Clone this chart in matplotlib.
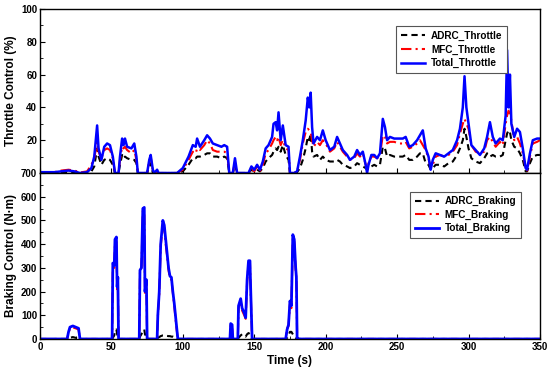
"""
Throttle / braking control split between ADRC and MFC parts.
Writes out.png (550x371).
"""

import matplotlib
matplotlib.use("Agg")
import matplotlib.pyplot as plt
from matplotlib.ticker import MultipleLocator

plt.rcParams["font.family"] = ["Liberation Sans", "DejaVu Sans"]
plt.rcParams["font.weight"] = "bold"

# THROTTLE DATA (%)
thr_time = [0, 10, 15, 20, 24, 28, 33, 36, 38, 40, 41, 43, 45, 47, 49, 51, 52.5, 55,
            56, 57.5, 58.5, 59.5, 61, 64, 66, 67.5, 68.5, 75, 76.5, 77.5, 79, 80, 82, 83,
            96, 100, 104, 107, 109, 110, 112, 115, 117, 119, 121, 124, 127, 129, 131,
            132.5, 135, 136.5, 138, 146, 148, 150, 152, 154, 156, 158, 160, 162.5, 163.5,
            165, 166, 167, 168.5, 170, 172, 174, 175, 178, 180, 182, 184, 186, 187.5,
            188.5, 189.5, 190.5, 191.5, 194, 196, 198, 200, 203, 206, 208, 210, 212, 215,
            217, 220, 222, 224, 226, 228, 229, 230, 232, 234, 236, 238, 240, 241.5, 243,
            245, 248, 251, 254, 256, 258.5, 261, 264, 266, 268, 270, 272, 273.5, 275, 277,
            280, 283, 286, 289, 292, 294, 296, 297.2, 298.5, 300, 302, 305, 308, 311, 313,
            315, 317, 319, 322, 324, 326, 327, 328, 329, 330, 332, 334, 336, 338, 340, 341,
            343, 345, 348, 350]
thr_total = [0.5, 0.5, 1, 1.5, 1, 0, 0.5, 3, 10, 29, 15, 8, 16, 18, 17, 10, 0, 0,
             10, 21, 17, 21, 16, 15, 18, 10, 0, 0, 8, 11, 2, 0, 2, 0,
             0, 3, 10, 17, 16, 21, 16, 20, 23, 21, 18, 17, 16, 17, 16,
             0, 0, 9, 0, 0, 4, 2, 5, 2, 7, 15, 17, 22, 30,
             31, 26, 37, 20, 29, 17, 16, 0, 0, 1, 10, 20, 32, 46,
             40, 49, 28, 18, 22, 20, 26, 20, 14, 16, 22, 18, 14, 11,
             8, 10, 14, 11, 13, 5, 0, 5, 11, 11, 9, 12, 33, 28, 20,
             22, 21, 21, 21, 22, 16, 17, 20, 23, 26, 15, 10, 2, 8, 12,
             11, 10, 12, 14, 20, 27, 40, 59, 40, 30, 17, 14, 11, 15, 22,
             31, 22, 18, 21, 20, 35, 75, 40, 60, 30, 22, 27, 25, 15, 3, 2,
             12, 20, 21, 21]
thr_mfc = [0.5, 0.5, 1.5, 2, 1.5, 0.3, 1, 5, 9, 19, 13, 9, 14, 15, 14, 9, 0, 0,
           8, 16, 15, 16, 14, 12, 14, 8, 0, 0, 7, 10, 1, 0, 1, 0,
           0, 2, 8, 13, 12, 15, 14, 17, 20, 18, 14, 13, 13, 13, 12,
           0, 0, 7, 0, 0, 3, 1, 4, 1, 5, 12, 14, 18, 20,
           22, 20, 22, 17, 20, 15, 14, 0, 0, 1, 8, 18, 25, 27,
           26, 25, 20, 16, 19, 17, 20, 18, 13, 15, 19, 16, 13, 10,
           8, 9, 12, 10, 12, 5, 2, 6, 10, 10, 9, 11, 23, 22, 18,
           19, 19, 18, 18, 19, 15, 16, 18, 20, 17, 14, 9, 3, 5, 10,
           11, 10, 11, 13, 17, 24, 30, 33, 30, 27, 17, 13, 12, 13, 20,
           22, 19, 16, 19, 17, 30, 35, 38, 36, 32, 20, 22, 18, 12, 3, 1,
           10, 18, 19, 20]
thr_adrc = [0.3, 0.3, 0.5, 0.5, 0.5, 0, 0, 1, 4, 15, 10, 5, 8, 9, 8, 5, 0, 0,
            5, 11, 9, 10, 9, 8, 8, 6, 0, 0, 4, 6, 0, 0, 0, 0,
            0, 1, 5, 9, 9, 10, 10, 11, 12, 12, 10, 10, 9, 10, 9,
            0, 0, 5, 0, 0, 2, 1, 2, 1, 3, 7, 9, 11, 13,
            15, 14, 16, 13, 17, 11, 8, 0, 0, 0.5, 3, 8, 15, 22,
            20, 24, 13, 10, 11, 8, 10, 8, 7, 7, 8, 7, 5, 4,
            3, 4, 6, 5, 4, 3, 2, 3, 4, 5, 4, 5, 16, 15, 10,
            11, 10, 10, 10, 11, 8, 8, 10, 12, 12, 6, 5, 2, 3, 5,
            5, 4, 6, 7, 11, 15, 20, 27, 22, 15, 9, 7, 6, 9, 12,
            10, 11, 10, 10, 11, 20, 24, 26, 25, 20, 16, 15, 12, 8, 1, 1,
            6, 10, 11, 11]

# BRAKING DATA (N·m)
brk_time = [0, 19, 20, 21, 23, 25, 27, 28, 50.5, 51, 52, 52.5, 53.5, 54, 54.5, 55,
            69.5, 70, 71, 72, 73, 73.5, 74.5, 75, 82, 82.5, 83.5, 84.5, 86, 87, 88, 89,
            90, 91, 92, 93, 94, 95.5, 96.5, 133, 133.5, 134.5, 135, 138.5, 139, 140.5,
            141.5, 143, 144, 145, 146, 147, 147.5, 148.5, 172, 173, 174, 175, 176, 177,
            178, 179, 179.5, 180, 181, 350]
brk_total = [0, 0, 30, 50, 55, 50, 45, 0, 0, 320, 310, 420, 430, 220, 260, 0,
             0, 290, 300, 550, 555, 200, 250, 0, 0, 100, 200, 400, 500, 480, 420, 360,
             300, 265, 260, 200, 150, 60, 0, 0, 65, 60, 0, 0, 140, 170,
             130, 110, 90, 250, 330, 330, 210, 0, 0, 40, 60, 160, 140, 440,
             420, 300, 260, 0, 0, 0]
brk_mfc = [0, 0, 25, 45, 48, 45, 40, 0, 0, 300, 300, 400, 410, 210, 250, 0,
           0, 280, 290, 540, 540, 190, 240, 0, 0, 90, 190, 390, 480, 470, 400, 350,
           290, 255, 250, 195, 140, 50, 0, 0, 60, 50, 0, 0, 130, 160,
           120, 100, 85, 240, 320, 320, 200, 0, 0, 45, 55, 150, 130, 430,
           410, 290, 250, 20, 0, 0]
brk_adrc = [0, 0, 2, 5, 8, 5, 3, 0, 0, 5, 15, 35, 40, 20, 10, 0,
            0, 10, 20, 35, 40, 20, 10, 0, 0, 5, 8, 12, 15, 15, 14, 13,
            12, 12, 10, 10, 8, 5, 0, 0, 5, 5, 0, 0, 5, 15,
            20, 15, 10, 20, 25, 20, 10, 0, 0, 5, 15, 30, 30, 20,
            10, 5, 5, 0, 0, 0]

# FIGURE
fig = plt.figure(figsize=(5.5, 3.71), dpi=100)
ax1 = fig.add_axes([0.0727, 0.5337, 0.909, 0.442])
ax2 = fig.add_axes([0.0727, 0.0863, 0.909, 0.4474], sharex=ax1)

ax1.plot(thr_time, thr_adrc,  color="black", ls=(0, (3, 2)), lw=1.5, label="ADRC_Throttle")
ax1.plot(thr_time, thr_mfc,   color="red",   ls=(0, (5, 2, 1, 2)), lw=1.5, label="MFC_Throttle")
ax1.plot(thr_time, thr_total, color="blue",  ls="-", lw=1.8, label="Total_Throttle")

ax2.plot(brk_time, brk_adrc,  color="black", ls=(0, (3, 2)), lw=1.5, label="ADRC_Braking")
ax2.plot(brk_time, brk_mfc,   color="red",   ls=(0, (5, 2, 1, 2)), lw=1.5, label="MFC_Braking")
ax2.plot(brk_time, brk_total, color="blue",  ls="-", lw=2.0, label="Total_Braking")

# ── Axes styling ──
ax1.set_xlim(0, 350)
ax1.set_ylim(0, 100)
ax1.set_yticks([20, 40, 60, 80, 100])
ax1.yaxis.set_minor_locator(MultipleLocator(10))
ax1.tick_params(labelbottom=False)
ax1.set_ylabel("Throttle Control (%)", fontsize=8.5, fontweight="bold", labelpad=3)

ax2.set_ylim(0, 700)
ax2.set_yticks(range(0, 701, 100))
ax2.yaxis.set_minor_locator(MultipleLocator(50))
ax2.set_xticks(range(0, 351, 50))
ax2.xaxis.set_minor_locator(MultipleLocator(25))
ax2.set_ylabel("Braking Control (N·m)", fontsize=8.5, fontweight="bold", labelpad=3)
ax2.set_xlabel("Time (s)", fontsize=8.5, fontweight="bold", labelpad=2)

for ax in (ax1, ax2):
    ax.tick_params(which="both", direction="in", labelsize=7, pad=2)
    ax.tick_params(which="major", length=3.5, width=0.8)
    ax.tick_params(which="minor", length=2, width=0.6)
    for lbl in ax.get_xticklabels() + ax.get_yticklabels():
        lbl.set_fontweight("bold")
    for sp in ax.spines.values():
        sp.set_linewidth(1.0)

leg_kw = dict(frameon=True, fancybox=False, edgecolor="#555555", framealpha=1.0,
              handlelength=2.4, borderpad=0.45, labelspacing=0.35, handletextpad=0.6,
              prop={"weight": "bold", "size": 7.2})
leg1 = ax1.legend(loc="upper right", bbox_to_anchor=(0.944, 0.925), **leg_kw)
leg2 = ax2.legend(loc="upper right", bbox_to_anchor=(0.972, 0.918), **leg_kw)
for leg in (leg1, leg2):
    leg.get_frame().set_linewidth(0.8)

fig.savefig("out.png", dpi=100)
